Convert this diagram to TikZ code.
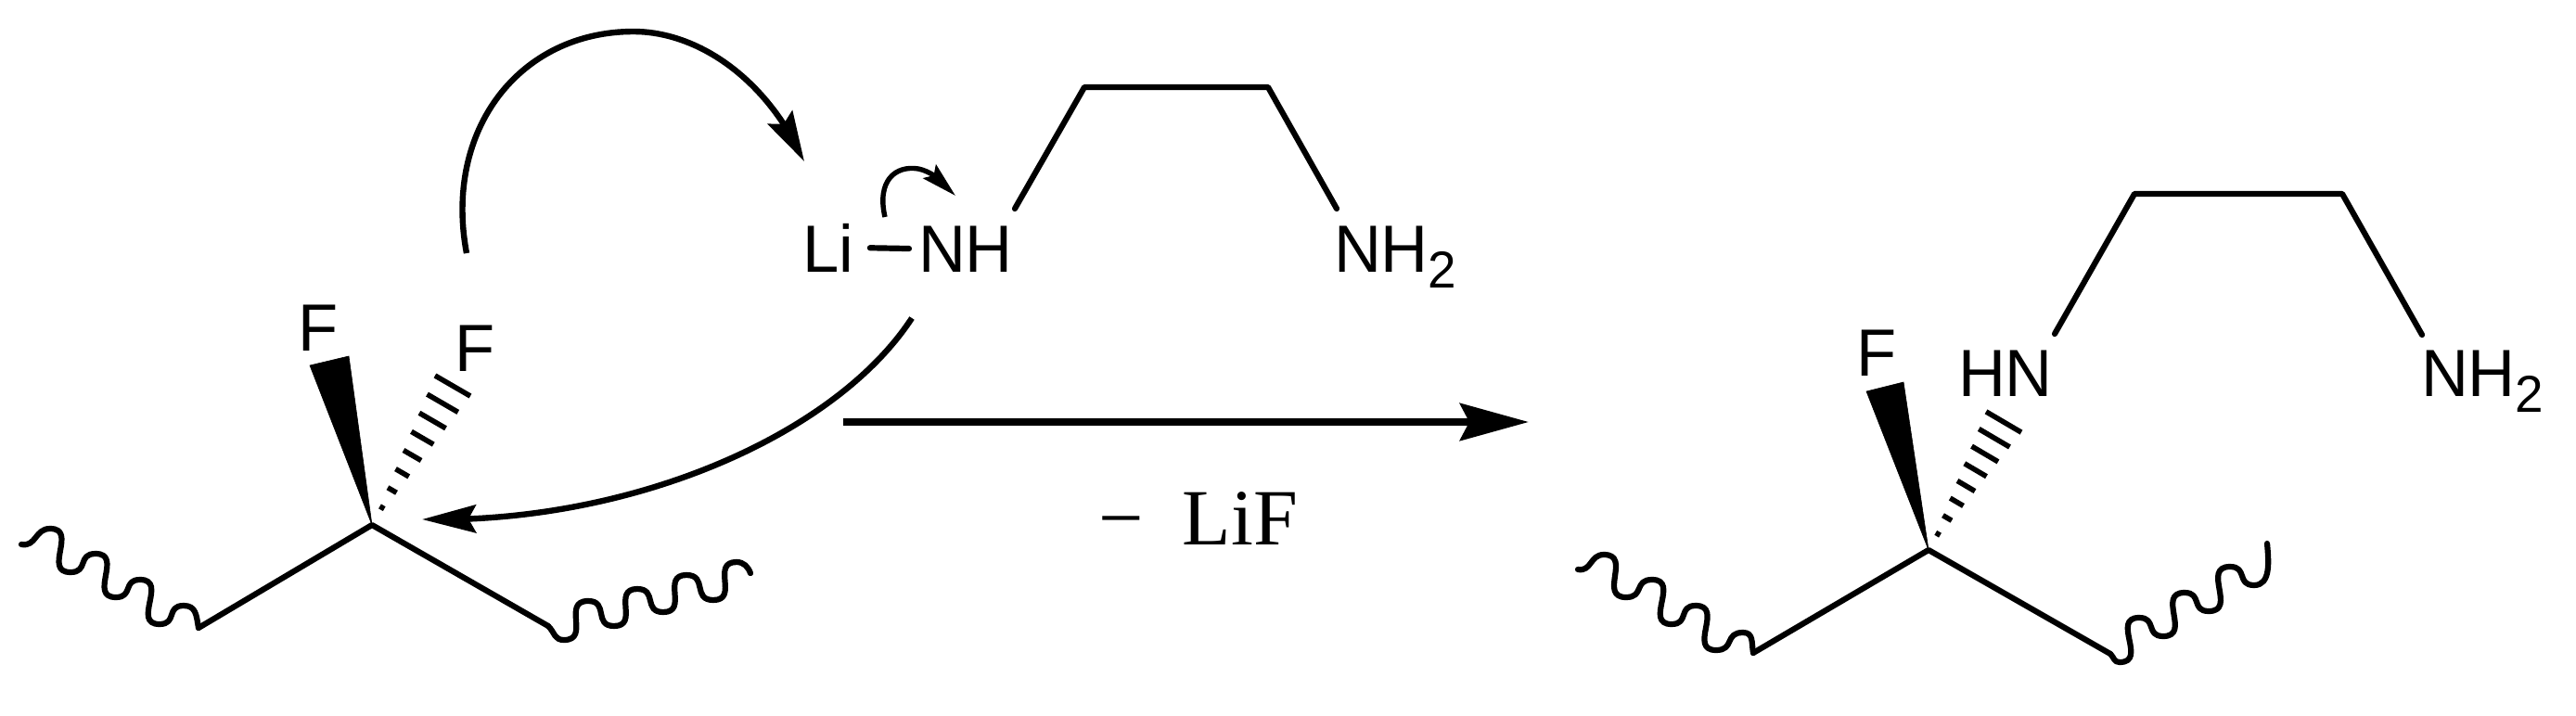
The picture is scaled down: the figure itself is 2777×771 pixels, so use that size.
\documentclass[tikz,border=0pt]{standalone}
\usepackage{fontspec}
\setmainfont[FakeStretch=0.98]{Liberation Sans}
\newfontfamily\serifface{Liberation Serif}
\usetikzlibrary{arrows.meta,calc,bending}
\tikzset{
  x=0.5pt,y=-0.5pt,
  bond/.style={line width=3.1pt,line cap=round,line join=round},
  atom/.style={inner sep=0pt,outer sep=0pt,anchor=base west,font=\fontsize{36}{36}\selectfont},
  wedgefill/.style={fill=black,draw=black,line width=0.3pt,line join=miter},
  hashline/.style={line width=2.8pt,line cap=butt},
  push/.style={line width=3.2pt},
  reactionarrow/.style={line width=4.2pt,-{Stealth[length=37pt,width=20pt,inset=5pt]}},
  sq/.style={out=0,in=180,looseness=1.5}
}
\newcommand{\hashbond}[2]{%
  \foreach \k in {1,...,8}{%
    \pgfmathsetmacro{\t}{\k/8}
    \pgfmathsetmacro{\h}{1.375*\k}
    \coordinate (hp) at ($(#1)!\t!(#2)$);
    \draw[hashline] ($(hp)!\h pt!90:(#1)$) -- ($(hp)!\h pt!-90:(#1)$);
  }%
}
\newcommand{\subtwo}{\raisebox{-8.5pt}{\fontsize{28}{28}\selectfont 2}}
\begin{document}
\begin{tikzpicture}
\useasboundingbox (0,0) rectangle (2777,771);
% ---- left molecule
\coordinate (C1) at (401,566);
\coordinate (C1l) at (214,677);
\coordinate (C1r) at (591,675);
\coordinate (W1a) at (334,394);
\coordinate (W1b) at (376,384);
\coordinate (H1) at (488,416);
\node[atom] (F1) at (321,378) {F};
\node[atom] (F2) at (490,400) {F};
\draw[bond] (C1l) -- (C1) -- (C1r);
\fill[wedgefill] (C1) -- (W1a) -- (W1b) -- cycle;
\hashbond{C1}{H1}
\draw[bond] (23,587) to[out=-10,in=180,looseness=1.2] (54,570) to[sq] (76,617) to[sq] (103,597) to[sq] (125,644) to[sq] (151,625) to[sq] (172,673) to[sq] (198,653) to[out=0,in=100,looseness=1.2] (C1l);
\draw[bond] (C1r) to[out=-45,in=180,looseness=1.2] (608,690) to[sq] (634,648) to[sq] (662,675) to[sq] (687,635) to[sq] (715,660) to[sq] (740,620) to[sq] (769,647) to[sq] (794,606) to[out=0,in=110,looseness=1] (809,618);
% ---- reagent
\node[atom] (Li) at (865,293) {Li};
\node[atom] (NH) at (990,293) {NH};
\node[atom] (NHt) at (1438,293) {NH\subtwo};
\coordinate (a1) at (1094,225);
\coordinate (a2) at (1169,94);
\coordinate (a3) at (1367,94);
\coordinate (a4) at (1441,225);
\draw[bond] (a1) -- (a2) -- (a3) -- (a4);
\draw[bond,shorten <=9pt,shorten >=5pt] (Li.east) -- (NH.west);
% ---- electron pushing arrows
\coordinate (p1s) at (503,273);
\coordinate (p1m) at (683,34);
\coordinate (p1e) at (867,174);
\draw[push,-{Stealth[length=27pt,width=15pt,inset=4pt,flex]}] (p1s) .. controls (478,140) and (560,34) .. (p1m) .. controls (750,34) and (825,82) .. (p1e);
\coordinate (p2s) at (983,343);
\coordinate (p2e) at (455,560);
\draw[push,-{Stealth[length=29pt,width=15pt,inset=4pt,flex]}] (p2s) .. controls (900,470) and (680,565) .. (p2e);
\coordinate (p3s) at (954,234);
\coordinate (p3m) at (990,182);
\coordinate (p3e) at (1030,211);
\draw[push,line width=2.7pt,-{Stealth[length=19pt,width=10pt,inset=3pt,flex]}] (p3s) .. controls (945,195) and (965,178) .. (p3m) .. controls (1005,185) and (1020,198) .. (p3e);
% ---- reaction arrow
\coordinate (r1) at (909,455);
\coordinate (r2) at (1648,455);
\draw[reactionarrow] (r1) -- (r2);
\node[inner sep=0pt,anchor=base west,font=\serifface\fontsize{43}{43}\selectfont] (loss) at (1184,587) {−\hspace{21pt}LiF};
% ---- product
\coordinate (C2) at (2079,593);
\coordinate (C2l) at (1890,704);
\coordinate (C2r) at (2275,705);
\coordinate (W2a) at (2012,422);
\coordinate (W2b) at (2052,412);
\coordinate (H2) at (2160,455);
\node[atom] (F3) at (2001,405) {F};
\node[atom] (HN) at (2111,427) {HN};
\node[atom] (NHp) at (2610,427) {NH\subtwo};
\coordinate (b1) at (2215,360);
\coordinate (b2) at (2301,209);
\coordinate (b3) at (2525,209);
\coordinate (b4) at (2611,361);
\draw[bond] (b1) -- (b2) -- (b3) -- (b4);
\draw[bond] (C2l) -- (C2) -- (C2r);
\fill[wedgefill] (C2) -- (W2a) -- (W2b) -- cycle;
\hashbond{C2}{H2}
\draw[bond] (1701,614) to[out=-10,in=180,looseness=1.2] (1729,598) to[sq] (1753,644) to[sq] (1781,625) to[sq] (1802,673) to[sq] (1828,653) to[sq] (1850,701) to[sq] (1879,682) to[out=0,in=100,looseness=1.2] (C2l);
\draw[bond] (C2r) to[out=-45,in=180,looseness=1.2] (2285,714) to[sq] (2306,666) to[sq] (2332,686) to[sq] (2355,639) to[sq] (2381,659) to[sq] (2404,611) to[sq] (2430,631) to[out=0,in=-85,looseness=1] (2444,586);
\end{tikzpicture}
\end{document}
